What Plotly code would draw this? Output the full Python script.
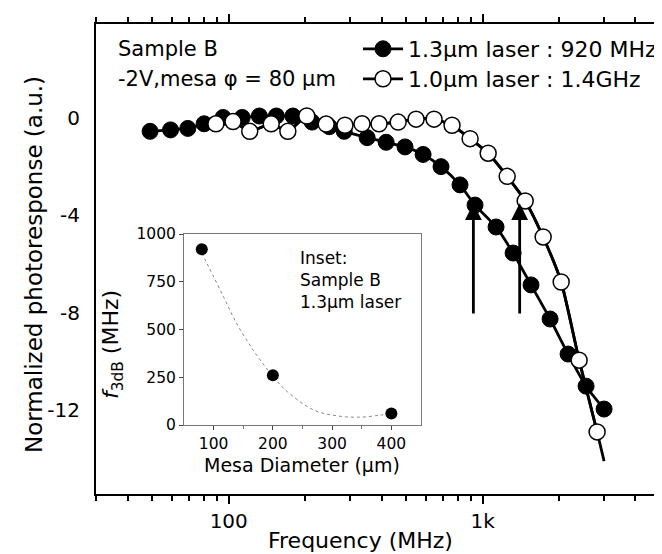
import math
import plotly.graph_objects as go

# ---- main data ----
freq_13 = [49, 59, 69, 80, 95, 113, 132, 154, 179, 213, 249, 285, 351, 417, 495,
           583, 686, 815, 934, 1130, 1319, 1552, 1845, 2172, 2557, 3011]
resp_13 = [-0.55, -0.49, -0.43, -0.24, 0.02, 0.02, 0.08, 0.08, 0.08, -0.17, -0.36, -0.55, -0.81, -1.0, -1.19,
           -1.5, -2.0, -2.75, -3.58, -4.48, -5.55, -6.86, -8.26, -9.70, -11.02, -11.96]

freq_10 = [89, 104, 121, 147, 171, 203, 242, 287, 335, 391, 465, 547, 644, 758, 893,
           1052, 1250, 1472, 1732, 2040, 2401, 2826]
resp_10 = [-0.24, -0.15, -0.55, -0.24, -0.55, 0.08, -0.25, -0.3, -0.24, -0.24, -0.17, -0.05, -0.05, -0.3, -0.85,
           -1.45, -2.4, -3.41, -4.89, -6.74, -9.95, -12.9]
# fitted line for 1.0um extends past last point
fit10_ext_freq = [3011]
fit10_ext_resp = [-14.1]

arrow_freqs = [920, 1400]
arrow_tip = -3.5
arrow_base = -8.1

# ---- inset data ----
mesa_d = [80, 200, 400]
f3db = [920, 260, 60]
fit_d = [80, 92, 118, 138, 158, 170, 200, 225, 270, 313, 347, 380, 395]
fit_f = [900, 826, 663, 536, 434, 377, 255, 173, 77, 46, 41, 51, 58]

x_major = [100, 1000]
x_major_text = ["100", "1k"]
x_minor = [30, 40, 50, 60, 70, 80, 90, 200, 300, 400, 500, 600, 700, 800, 900, 2000, 3000, 4000, 5000]
y_ticks = [0, -4, -8, -12]
y_tick_text = ["0", "-4", "-8", "-12"]

FONT = "DejaVu Sans"

W, H = 662, 554
L, R, T, B = 88, 10, 16, 68
pw, ph = W - L - R, H - T - B


def px(xp):
    return (xp - L) / pw


def py(yp):
    return (H - B - yp) / ph


fig = go.Figure()

fig.add_trace(go.Scatter(
    x=freq_13, y=resp_13, mode="lines+markers", name="1.3\u03bcm laser : 920 MHz",
    line=dict(color="black", width=2.8, shape="spline", smoothing=0.6),
    marker=dict(symbol="circle", size=16, color="black", line=dict(color="black", width=1)),
    legend="legend"))

fig.add_trace(go.Scatter(
    x=freq_10 + fit10_ext_freq, y=resp_10 + fit10_ext_resp, mode="lines", showlegend=False,
    line=dict(color="black", width=2.8, shape="spline", smoothing=0.6), hoverinfo="skip"))

fig.add_trace(go.Scatter(
    x=freq_10, y=resp_10, mode="lines+markers", name="1.0\u03bcm laser : 1.4GHz",
    line=dict(color="black", width=2.8, shape="spline", smoothing=0.6),
    marker=dict(symbol="circle", size=16, color="white", line=dict(color="black", width=1.5)),
    legend="legend2"))

# inset
fig.add_trace(go.Scatter(
    x=fit_d, y=fit_f, mode="lines", xaxis="x2", yaxis="y2", showlegend=False,
    line=dict(color="#888888", width=1, dash="dot", shape="spline")))
fig.add_trace(go.Scatter(
    x=mesa_d, y=f3db, mode="markers", xaxis="x2", yaxis="y2", showlegend=False,
    marker=dict(size=12, color="black")))

for f in arrow_freqs:
    fig.add_annotation(x=math.log10(f), y=arrow_tip, ax=math.log10(f), ay=arrow_base,
                       xref="x", yref="y", axref="x", ayref="y", text="", showarrow=True,
                       arrowhead=2, arrowsize=1.2, arrowwidth=2.8, arrowcolor="black")


def label(text, xp, yp, size, xanchor="left", angle=0, align="left"):
    fig.add_annotation(x=px(xp), y=py(yp), xref="paper", yref="paper", text=text,
                       showarrow=False, xanchor=xanchor, yanchor="middle", textangle=angle,
                       align=align, font=dict(size=size, family=FONT, color="black"))


label("Sample B", 108, 41, 21)
label("-2V,mesa \u03c6 = 80 \u03bcm", 108, 71, 21)
label("Inset:<br>Sample B<br>1.3\u03bcm laser", 290, 272, 17)
label("Frequency (MHz)", 352, 532, 22, xanchor="center")
label("Normalized photoresponse (a.u.)", 26, 257, 23, xanchor="center", angle=-90)
label("<i>f</i><sub>3dB</sub> (MHz)", 105, 337, 22, xanchor="center", angle=-90)
label("Mesa Diameter (\u03bcm)", 294, 457, 19, xanchor="center")

leg_common = dict(xanchor="left", yanchor="middle", bgcolor="rgba(0,0,0,0)",
                  font=dict(size=22, family=FONT, color="black"), itemwidth=40,
                  borderwidth=0)

fig.update_layout(
    width=W, height=H,
    margin=dict(l=L, r=R, t=T, b=B, autoexpand=False),
    paper_bgcolor="white", plot_bgcolor="white",
    font=dict(family=FONT, size=20, color="black"),
    showlegend=True,
    legend=dict(x=px(350), y=py(41), **leg_common),
    legend2=dict(x=px(350), y=py(71), **leg_common),
    xaxis=dict(type="log", range=[math.log10(30), math.log10(5000)], automargin=False,
               tickmode="array", tickvals=x_major, ticktext=x_major_text,
               ticks="outside", ticklen=8, tickwidth=1.5, tickcolor="black",
               showline=True, linecolor="black", linewidth=2, mirror="allticks",
               showgrid=False, zeroline=False,
               minor=dict(tickmode="array", tickvals=x_minor, ticks="outside", ticklen=5,
                          tickwidth=1.5, tickcolor="black", showgrid=False),
               tickfont=dict(size=20)),
    yaxis=dict(range=[-15.45, 3.86], tickmode="array", tickvals=y_ticks, ticktext=y_tick_text,
               automargin=False,
               ticks="", showline=True, linecolor="black", linewidth=2, mirror=True,
               showgrid=False, zeroline=False, ticklabelstandoff=10,
               tickfont=dict(size=20)),
    xaxis2=dict(domain=[px(176), px(413)], anchor="y2", range=[50, 450], automargin=False,
                tickvals=[100, 200, 300, 400], ticks="outside", ticklen=4,
                showline=True, linecolor="#777777", linewidth=1, mirror=True,
                showgrid=False, zeroline=False, tickfont=dict(size=15.5),
                minor=dict(tickvals=[150, 250, 350], ticks="outside", ticklen=3, tickcolor="#777777")),
    yaxis2=dict(domain=[py(417), py(226)], anchor="x2", range=[0, 1000], automargin=False,
                tickvals=[0, 250, 500, 750, 1000], ticks="outside", ticklen=4,
                showline=True, linecolor="#777777", linewidth=1, mirror=True,
                showgrid=False, zeroline=False, tickfont=dict(size=15.5)),
)

fig.write_html("out.html")
